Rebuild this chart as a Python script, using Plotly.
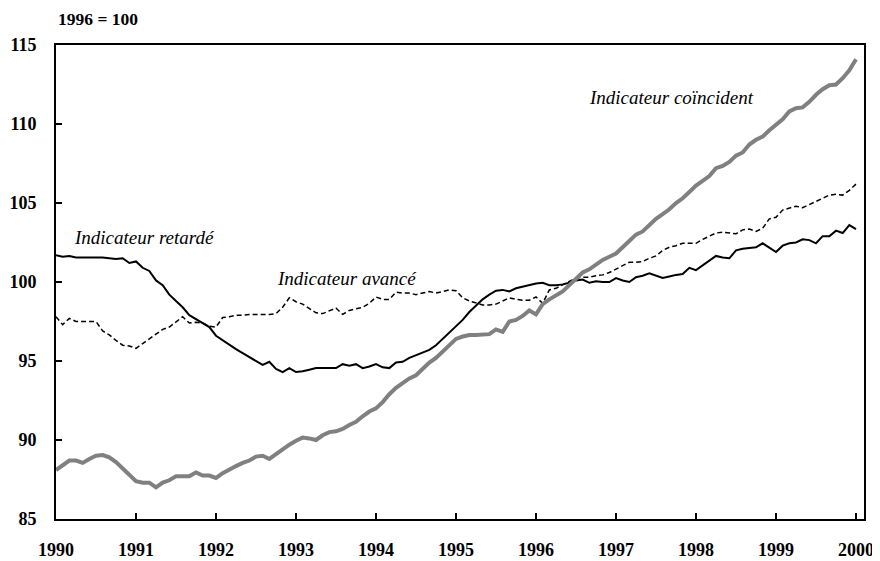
import plotly.graph_objects as go

# Monthly data, Jan 1990 onward (1996 = 100)
start_year = 1990
coincident = [88.1, 88.4, 88.7, 88.7, 88.55, 88.8, 89.0, 89.05, 88.9, 88.6, 88.2, 87.85,
              87.4, 87.3, 87.3, 87.0, 87.3, 87.45, 87.7, 87.7, 87.7, 87.95, 87.75, 87.75,
              87.6, 87.9, 88.15, 88.35, 88.55, 88.7, 88.95, 89.0, 88.8, 89.1, 89.45, 89.7,
              89.95, 90.15, 90.1, 90.0, 90.3, 90.5, 90.55, 90.7, 90.95, 91.15, 91.5, 91.8,
              92.0, 92.4, 92.9, 93.3, 93.6, 93.9, 94.1, 94.5, 94.9, 95.2, 95.6, 96.0,
              96.4, 96.55, 96.65, 96.65, 96.65, 96.7, 97.0, 96.85, 97.5, 97.6, 97.85, 98.2,
              97.95, 98.6, 98.9, 99.15, 99.4, 99.8, 100.2, 100.6, 100.8, 101.1, 101.4, 101.6,
              101.8, 102.2, 102.6, 103.0, 103.2, 103.6, 104.0, 104.3, 104.6, 105.0, 105.3, 105.7,
              106.1, 106.4, 106.7, 107.2, 107.35, 107.6, 108.0, 108.2, 108.7, 109.0, 109.2, 109.6,
              109.95, 110.3, 110.8, 111.0, 111.05, 111.4, 111.85, 112.2, 112.45, 112.5, 112.9, 113.4,
              114.1]
lagging = [101.7, 101.6, 101.65, 101.55, 101.55, 101.55, 101.55, 101.55, 101.5, 101.45, 101.5, 101.2,
           101.3, 100.9, 100.7, 100.1, 99.8, 99.2, 98.8, 98.4, 97.9, 97.65, 97.4, 97.15,
           96.6, 96.3, 96.0, 95.75, 95.5, 95.25, 95.0, 94.75, 94.95, 94.5, 94.3, 94.55,
           94.3, 94.35, 94.45, 94.55, 94.55, 94.55, 94.55, 94.8, 94.7, 94.8, 94.55, 94.65,
           94.8, 94.6, 94.55, 94.9, 94.95, 95.2, 95.35, 95.5, 95.7, 96.0, 96.4, 96.8,
           97.2, 97.6, 98.1, 98.5, 98.9, 99.2, 99.45, 99.5, 99.4, 99.6, 99.7, 99.8,
           99.9, 99.95, 99.8, 99.8, 99.85, 99.95, 100.1, 100.15, 99.95, 100.05, 100.0, 100.0,
           100.25, 100.1, 100.0, 100.3, 100.4, 100.55, 100.4, 100.25, 100.35, 100.45, 100.5, 100.9,
           100.75, 101.05, 101.4, 101.65, 101.55, 101.5, 102.0, 102.1, 102.15, 102.2, 102.45, 102.2,
           101.9, 102.3, 102.45, 102.5, 102.7, 102.65, 102.45, 102.9, 102.9, 103.25, 103.1, 103.6,
           103.35]
leading = [97.8, 97.3, 97.7, 97.5, 97.5, 97.5, 97.5, 96.9, 96.65, 96.3, 96.0, 95.95,
           95.8, 96.1, 96.4, 96.7, 97.0, 97.15, 97.5, 97.8, 97.4, 97.45, 97.4, 97.2,
           97.15, 97.75, 97.8, 97.9, 97.9, 97.95, 97.95, 97.95, 97.95, 98.0, 98.4, 99.0,
           98.75, 98.6, 98.3, 98.05, 98.0, 98.2, 98.35, 97.95, 98.2, 98.3, 98.4, 98.65,
           99.05, 98.9, 98.9, 99.35, 99.3, 99.3, 99.2, 99.3, 99.4, 99.3, 99.4, 99.5,
           99.45, 99.0, 98.8, 98.65, 98.55, 98.55, 98.6, 98.8, 99.0, 98.9, 98.85, 98.85,
           99.05, 98.65, 99.5, 99.6, 99.8, 100.0, 100.25, 100.3, 100.3, 100.4, 100.45, 100.6,
           100.8, 101.0, 101.25, 101.25, 101.3, 101.5, 101.65, 102.0, 102.2, 102.3, 102.45, 102.45,
           102.45, 102.7, 102.9, 103.1, 103.15, 103.1, 103.05, 103.3, 103.35, 103.2, 103.4, 104.0,
           104.1, 104.55, 104.7, 104.8, 104.7, 104.9, 105.05, 105.3, 105.5, 105.55, 105.5, 105.8,
           106.2]
year_ticks = list(range(1990, 2001))
y_ticks = [85, 90, 95, 100, 105, 110, 115]


def months(n):
    return [start_year + m / 12 for m in range(n)]


fig = go.Figure()
fig.add_trace(go.Scatter(x=months(len(leading)), y=leading, mode="lines",
                         line=dict(color="black", width=1.5, dash="5px,3px"),
                         name="Indicateur avancé"))
fig.add_trace(go.Scatter(x=months(len(lagging)), y=lagging, mode="lines",
                         line=dict(color="black", width=2), name="Indicateur retardé"))
fig.add_trace(go.Scatter(x=months(len(coincident)), y=coincident, mode="lines",
                         line=dict(color="#808080", width=4), name="Indicateur coïncident"))

font_ticks = dict(family="Liberation Serif", size=18, color="black", weight="bold")
lab_font = dict(family="Liberation Serif", size=19, color="black", style="italic")

fig.update_layout(
    width=872, height=553,
    margin=dict(l=48, r=16, t=37, b=42),
    plot_bgcolor="white", paper_bgcolor="white",
    showlegend=False,
    xaxis=dict(range=[1990, 2000.1], tickvals=year_ticks, ticktext=[str(y) for y in year_ticks],
               ticks="inside", ticklen=6, tickwidth=1.5, tickcolor="black",
               showline=True, linecolor="black", linewidth=2, mirror=True, automargin=False,
               showgrid=False, zeroline=False, tickfont=font_ticks, ticklabelstandoff=13),
    yaxis=dict(range=[85, 115], tickvals=y_ticks,
               ticks="inside", ticklen=6, tickwidth=1.5, tickcolor="black",
               showline=True, linecolor="black", linewidth=2, mirror=True, automargin=False,
               showgrid=False, zeroline=False, tickfont=font_ticks, ticklabelstandoff=14),
    annotations=[
        dict(x=0, y=1, xref="paper", yref="paper", xanchor="left", yanchor="bottom",
             yshift=14, text="1996 = 100", showarrow=False,
             font=dict(family="Liberation Serif", size=17.5, color="black", weight="bold")),
        dict(x=1997.69, y=111.65, text="Indicateur coïncident", showarrow=False,
             xanchor="center", yanchor="middle", font=lab_font),
        dict(x=1991.11, y=102.8, text="Indicateur retardé", showarrow=False,
             xanchor="center", yanchor="middle", font=lab_font),
        dict(x=1993.64, y=100.25, text="Indicateur avancé", showarrow=False,
             xanchor="center", yanchor="middle", font=lab_font),
    ],
)

fig.write_html("out.html")
